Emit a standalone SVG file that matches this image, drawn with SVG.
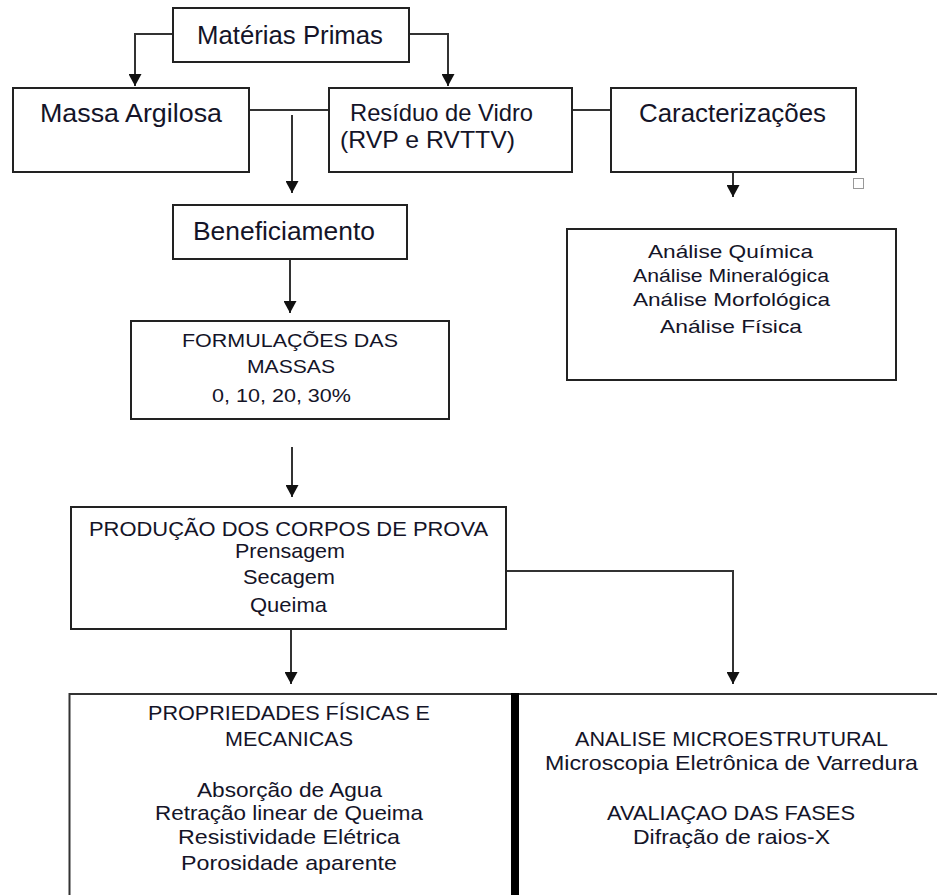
<svg xmlns="http://www.w3.org/2000/svg" width="937" height="895" viewBox="0 0 937 895">
<defs>
<style>
.box{fill:#fff;stroke:#222;stroke-width:2}
.ln{fill:none;stroke:#333;stroke-width:2}
.big{font-family:"Liberation Sans",Arial,sans-serif;font-size:26px;fill:#141428}
.big2{font-family:"Liberation Sans",Arial,sans-serif;font-size:24px;fill:#141428}
.sm{font-family:"Liberation Sans",Arial,sans-serif;font-size:19px;fill:#141428}
.md{font-family:"Liberation Sans",Arial,sans-serif;font-size:21px;fill:#141428}
</style>
<marker id="ah" markerUnits="userSpaceOnUse" markerWidth="13" markerHeight="13" refX="12" refY="6.5" orient="auto" viewBox="0 0 13 13">
<path d="M0,0 L12,6.5 L0,13 z" fill="#111"/>
</marker>
</defs>
<rect width="937" height="895" fill="#fff"/>
<g id="connectors">
<polyline class="ln" points="173,34 135,34 135,86" marker-end="url(#ah)"/>
<polyline class="ln" points="409,34 448,34 448,86" marker-end="url(#ah)"/>
<line class="ln" x1="249" y1="110" x2="329" y2="110"/>
<line class="ln" x1="572" y1="110" x2="611" y2="110"/>
<line class="ln" x1="292" y1="115" x2="292" y2="193" marker-end="url(#ah)"/>
<line class="ln" x1="733" y1="146" x2="733" y2="197" marker-end="url(#ah)"/>
<line class="ln" x1="290" y1="259" x2="290" y2="313" marker-end="url(#ah)"/>
<line class="ln" x1="292" y1="447" x2="292" y2="497" marker-end="url(#ah)"/>
<line class="ln" x1="291" y1="629" x2="291" y2="684" marker-end="url(#ah)"/>
<polyline class="ln" points="506,571 733,571 733,684" marker-end="url(#ah)"/>
</g>
<g id="materias-primas">
<rect class="box" x="173" y="8" width="236" height="54"/>
<text class="big" x="197" y="44" textLength="186" lengthAdjust="spacingAndGlyphs">Matérias Primas</text>
</g>
<g id="massa-argilosa">
<rect class="box" x="13" y="88" width="236" height="84"/>
<text class="big" x="40" y="122" textLength="182" lengthAdjust="spacingAndGlyphs">Massa Argilosa</text>
</g>
<g id="residuo">
<rect class="box" x="329" y="88" width="243" height="84"/>
<text class="big2" x="350" y="121" textLength="183" lengthAdjust="spacingAndGlyphs">Resíduo de Vidro</text>
<text class="big2" x="340" y="148" textLength="175" lengthAdjust="spacingAndGlyphs">(RVP e RVTTV)</text>
</g>
<g id="caracterizacoes">
<rect class="box" x="611" y="88" width="245" height="84"/>
<text class="big" x="639" y="122" textLength="187" lengthAdjust="spacingAndGlyphs">Caracterizações</text>
<rect x="853.5" y="178.5" width="10" height="10" fill="#fff" stroke="#999" stroke-width="1"/>
</g>
<g id="beneficiamento">
<rect class="box" x="173" y="205" width="234" height="54"/>
<text class="big" x="193" y="240" textLength="182" lengthAdjust="spacingAndGlyphs">Beneficiamento</text>
</g>
<g id="analises">
<rect class="box" x="567" y="229" width="329" height="151"/>
<text class="sm" x="648" y="258" textLength="165" lengthAdjust="spacingAndGlyphs">Análise Química</text>
<text class="sm" x="633" y="282" textLength="196" lengthAdjust="spacingAndGlyphs">Análise Mineralógica</text>
<text class="sm" x="633" y="306" textLength="197" lengthAdjust="spacingAndGlyphs">Análise Morfológica</text>
<text class="sm" x="660" y="333" textLength="142" lengthAdjust="spacingAndGlyphs">Análise Física</text>
</g>
<g id="formulacoes">
<rect class="box" x="131" y="321" width="318" height="98"/>
<text class="sm" x="182" y="347" textLength="216" lengthAdjust="spacingAndGlyphs">FORMULAÇÕES DAS</text>
<text class="sm" x="247" y="373" textLength="88" lengthAdjust="spacingAndGlyphs">MASSAS</text>
<text class="sm" x="212" y="402" textLength="139" lengthAdjust="spacingAndGlyphs">0, 10, 20, 30%</text>
</g>
<g id="producao">
<rect class="box" x="71" y="507" width="435" height="122"/>
<text class="md" x="89" y="536" textLength="399" lengthAdjust="spacingAndGlyphs">PRODUÇÃO DOS CORPOS DE PROVA</text>
<text class="md" x="235" y="558" textLength="110" lengthAdjust="spacingAndGlyphs">Prensagem</text>
<text class="md" x="243" y="584" textLength="92" lengthAdjust="spacingAndGlyphs">Secagem</text>
<text class="md" x="250" y="612" textLength="77" lengthAdjust="spacingAndGlyphs">Queima</text>
</g>
<g id="propriedades">
<path class="ln" d="M69.5,895 L69.5,694 L512,694"/>
<text class="md" x="148" y="720" textLength="282" lengthAdjust="spacingAndGlyphs">PROPRIEDADES FÍSICAS E</text>
<text class="md" x="225" y="746" textLength="128" lengthAdjust="spacingAndGlyphs">MECANICAS</text>
<text class="md" x="197" y="797" textLength="185" lengthAdjust="spacingAndGlyphs">Absorção de Agua</text>
<text class="md" x="155" y="820" textLength="268" lengthAdjust="spacingAndGlyphs">Retração linear de Queima</text>
<text class="md" x="178" y="844" textLength="222" lengthAdjust="spacingAndGlyphs">Resistividade Elétrica</text>
<text class="md" x="181" y="870" textLength="216" lengthAdjust="spacingAndGlyphs">Porosidade aparente</text>
</g>
<g id="microestrutural">
<path class="ln" d="M518,694 L937,694"/>
<rect x="511" y="693" width="8" height="202" fill="#000"/>
<text class="md" x="575" y="746" textLength="313" lengthAdjust="spacingAndGlyphs">ANALISE MICROESTRUTURAL</text>
<text class="md" x="545" y="770" textLength="373" lengthAdjust="spacingAndGlyphs">Microscopia Eletrônica de Varredura</text>
<text class="md" x="607" y="820" textLength="248" lengthAdjust="spacingAndGlyphs">AVALIAÇAO DAS FASES</text>
<text class="md" x="633" y="844" textLength="197" lengthAdjust="spacingAndGlyphs">Difração de raios-X</text>
</g>
</svg>
